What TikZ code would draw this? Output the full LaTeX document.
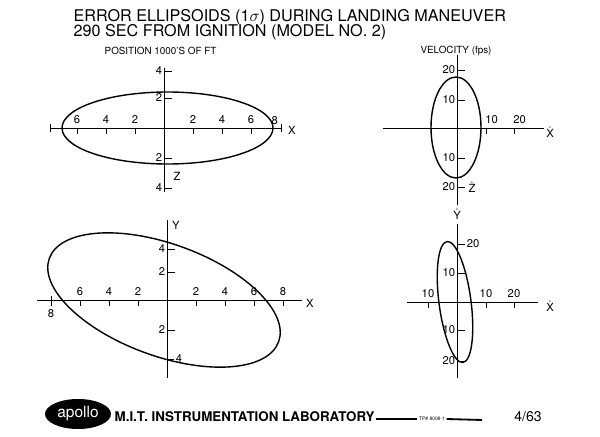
\documentclass[tikz,border=0pt]{standalone}
\usepackage{fontspec}
\setmainfont{TeX Gyre Heros}
\usetikzlibrary{calc,shapes.geometric}
\newcommand{\dotted}[1]{$\dot{\mbox{#1}}$}

\begin{document}
\begin{tikzpicture}[x=0.025cm,y=0.025cm,
	every node/.style={font=\fontsize{8}{9}\selectfont, inner sep=1pt},
	axis/.style={line width=0.6pt},
	curve/.style={line width=1pt}]
	\useasboundingbox (0,0) rectangle (600,436);
	
	%titles
	\node[anchor=west,font=\fontsize{11.5}{12}\selectfont] (t1) at (72,419) {ERROR ELLIPSOIDS (1$\sigma$) DURING LANDING MANEUVER};
	\node[anchor=west,font=\fontsize{11.5}{12}\selectfont] (t2) at (72,404) {290 SEC FROM IGNITION (MODEL NO. 2)};
	\node[anchor=west,font=\fontsize{7}{8}\selectfont] (pos) at (103,385) {POSITION 1000'S OF FT};
	\node[font=\fontsize{7}{8}\selectfont] (vel) at (456,385) {VELOCITY (fps)};
	
	%position x-z
	\coordinate (o1) at (164,308);
	\draw[axis] (50,308) -- (281,308) (50,304) -- (50,312) (281,304) -- (281,312);
	\draw[axis] (164,368) -- (164,244);
	\foreach \k in {2,4,6}{
		\draw[axis] ($(o1)+(14.5*\k,0)$) -- +(0,-6) node[pos=0,above=2pt]{\k};
		\draw[axis] ($(o1)+(-14.5*\k,0)$) -- +(0,-6) node[pos=0,above=2pt]{\k};
	}
	\node[above left=1pt] at (281,308) {8};
	\foreach \y/\l in {365/4,338/2,278/2,248/4}
		\draw[axis] (164,\y) -- +(8,0) node[pos=0,left]{\l};
	\draw[curve] (167.5,308) ellipse [x radius=105.5, y radius=36];
	\node (x1) at (292,306) {X};
	\node (z1) at (177,260) {Z};
	
	%velocity x-z
	\draw[axis] (383,308) -- (544,308);
	\draw[axis] (457,381) -- (457,231);
	\foreach \x/\l in {486/10,514/20}
		\draw[axis] (\x,308) -- +(0,-6) node[pos=0,above=2pt,xshift=4pt]{\l};
	\foreach \y/\l in {366/20,336/10,278/10,249/20}
		\draw[axis] (457,\y) -- +(8,0) node[pos=0,left]{\l};
	\draw[curve] (456,308.5) ellipse [x radius=25, y radius=50.5];
	\node (x2) at (550,304) {\dotted{X}};
	\node (z2) at (472,249) {\dotted{Z}};
	
	%position x-y
	\coordinate (o3) at (167,136);
	\draw[axis] (37,136) -- (302,136);
	\draw[axis] (167,216) -- (167,58);
	\foreach \k in {2,4,6}{
		\draw[axis] ($(o3)+(14.5*\k,0)$) -- +(0,-6) node[pos=0,above=2pt]{\k};
		\draw[axis] ($(o3)+(-14.5*\k,0)$) -- +(0,-6) node[pos=0,above=2pt]{\k};
	}
	\draw[axis] (51,140) -- (51,130) node[below=1pt]{8};
	\draw[axis] (283,136) -- +(0,-6) node[pos=0,above=2pt]{8};
	\foreach \y/\l in {187/4,164/2,106/2}
		\draw[axis] (167,\y) -- +(8,0) node[pos=0,left]{\l};
	\draw[axis] (167,77) -- +(7,0) node[right=0pt]{4};
	\draw[curve] (164,136) ellipse [x radius=122, y radius=56, rotate=-20];
	\node (x3) at (310,133) {X};
	\node (y3) at (176,211) {Y};
	
	%velocity x-y
	\draw[axis] (407,134) -- (538,134);
	\draw[axis] (457,212) -- (457,58);
	\foreach \x/\l in {428/10,486/10,514/20}
		\draw[axis] (\x,134) -- +(0,-6) node[pos=0,above=2pt]{\l};
	\draw[axis] (457,192) -- +(8,0) node[right=0pt]{20};
	\foreach \y/\l in {163/10,106/10,75/20}
		\draw[axis] (457,\y) -- +(8,0) node[pos=0,left]{\l};
	\draw[curve] (455,134) ellipse [x radius=16, y radius=61, rotate=7.5];
	\node (x4) at (550,130) {\dotted{X}};
	\node (y4) at (457,222) {\dotted{Y}};
	
	%footer
	\node[ellipse,fill=black,minimum width=66*0.025cm,minimum height=30*0.025cm,inner sep=0pt,
		text=white,font=\fontsize{11}{12}\selectfont] (apollo) at (78,22) {apollo};
	\node[anchor=west,font=\fontsize{9.5}{10}\bfseries] (mit) at (113,19) {M.I.T. INSTRUMENTATION LABORATORY};
	\node[font=\fontsize{3.5}{4}\selectfont] (tp) at (432,17) {TP\# 8008-1};
	\draw[line width=1.3pt] (mit.east) ++(0,-2) -- (tp.west);
	\draw[line width=1.3pt] (tp.east) -- (482,16);
	\node[font=\fontsize{10}{10}\selectfont] (date) at (528,19) {4/63};
\end{tikzpicture}
\end{document}
